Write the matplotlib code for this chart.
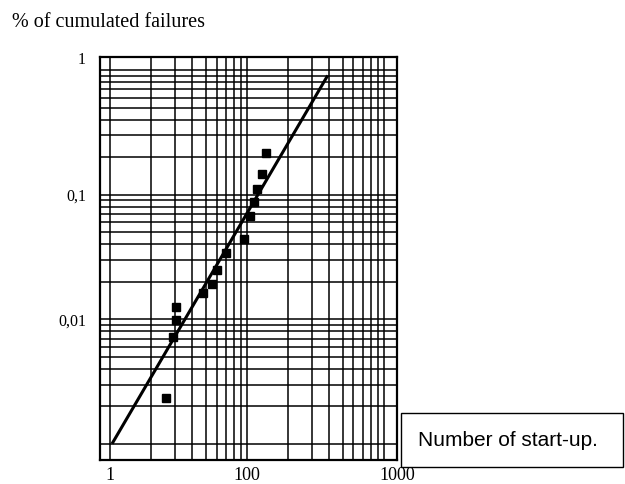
import numpy as np
import matplotlib
matplotlib.use('Agg')
import matplotlib.pyplot as plt
from matplotlib.ticker import FixedLocator, FixedFormatter
from matplotlib.patches import Rectangle
from matplotlib.transforms import ScaledTranslation

# measured points (number of start-ups, cumulated failures)
starts = [137.7, 128.7, 118.3, 112.5, 105.1, 90.4, 49.3, 36.5, 30.8, 22.8, 9.2, 9.2, 8.3, 6.6]
failures = [0.217, 0.147, 0.112, 0.0879, 0.0679, 0.0444, 0.0343, 0.0250, 0.0193, 0.0164,
            0.0126, 0.00995, 0.00726, 0.00236]

# fitted line ends
fit_x = [1.1, 384]
fit_y = [0.00103, 0.883]

x_ticks = [1, 100, 1000]
x_labels = ['1', '100', '1000']
y_ticks = [0.001, 0.01, 0.1, 1]
y_labels = ['', '0,01', '0,1', '1']


# paper has two cycles: 1..100 then 100..1000
def fwd(x):
    x = np.asarray(x, dtype=float)
    lx = np.log10(np.clip(x, 1e-9, None))
    return np.where(lx <= 2, lx / 2, lx - 1)


def inv(t):
    t = np.asarray(t, dtype=float)
    return np.where(t <= 1, 10 ** (2 * t), 10 ** (t + 1))


fig = plt.figure(figsize=(6.25, 4.84), dpi=100)
ax = fig.add_axes([0.16, 0.0496, 0.475, 0.8324])

ax.set_xscale('function', functions=(fwd, inv))
ax.set_yscale('log')
ax.set_xlim(0.714, 1245)
ax.set_ylim(0.000744, 1.27)

x_minor = [k ** 2 for k in range(2, 10)] + [100 * k for k in range(2, 10)]
y_minor = [k * 10.0 ** e for e in (-3, -2, -1) for k in range(2, 10)]
ax.xaxis.set_major_locator(FixedLocator(x_ticks))
ax.xaxis.set_major_formatter(FixedFormatter(x_labels))
ax.xaxis.set_minor_locator(FixedLocator(x_minor))
ax.yaxis.set_major_locator(FixedLocator(y_ticks))
ax.yaxis.set_major_formatter(FixedFormatter(y_labels))
ax.yaxis.set_minor_locator(FixedLocator(y_minor))
ax.xaxis.set_minor_formatter(FixedFormatter([''] * len(x_minor)))
ax.yaxis.set_minor_formatter(FixedFormatter([''] * len(y_minor)))

ax.grid(which='both', color='black', lw=1.1)
ax.set_axisbelow(True)
for s in ax.spines.values():
    s.set_linewidth(1.6)

ax.tick_params(which='both', length=0)
ax.tick_params(axis='y', pad=10, labelsize=11.5)
ax.tick_params(axis='x', pad=5, labelsize=13)
for lab in ax.get_xticklabels() + ax.get_yticklabels():
    lab.set_fontfamily('Liberation Serif')

# the scan prints the end labels at the frame, not on the cycle line
lab = ax.xaxis.get_major_ticks()[2].label1
lab.set_transform(lab.get_transform() + ScaledTranslation(0.13, 0, fig.dpi_scale_trans))
lab = ax.yaxis.get_major_ticks()[3].label1
lab.set_transform(lab.get_transform() + ScaledTranslation(0, 0.12, fig.dpi_scale_trans))

ax.plot(fit_x, fit_y, color='black', lw=2.2)
ax.plot(starts, failures, 's', color='black', ms=5.5, zorder=5)

fig.text(0.019, 0.953, '% of cumulated failures', fontsize=14.5,
         family='Liberation Serif', va='center', ha='left')

fig.patches.append(Rectangle((0.6416, 0.0351), 0.355, 0.1116, transform=fig.transFigure,
                             fill=False, edgecolor='black', lw=1))
fig.text(0.669, 0.0909, 'Number of start-up.', fontsize=15,
         family='Liberation Sans', va='center', ha='left')

fig.savefig('out.png', dpi=100)
